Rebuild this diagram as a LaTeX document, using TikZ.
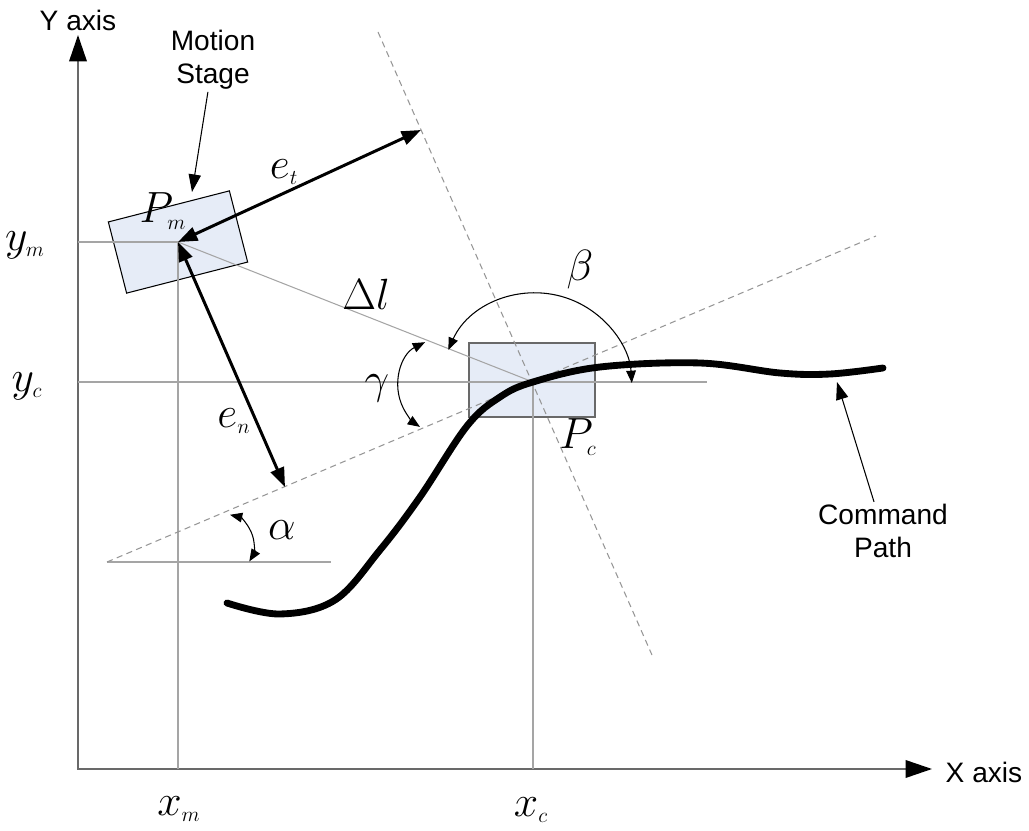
\documentclass[tikz,border=0pt]{standalone}
\usepackage{amsmath,amssymb}
\usepackage{fontspec}
\setmainfont{Liberation Sans}
\usetikzlibrary{arrows.meta}
\definecolor{stagefill}{RGB}{230,236,247}
\definecolor{guidegray}{RGB}{165,165,165}
\definecolor{axisgray}{RGB}{105,105,105}
\definecolor{dashgray}{RGB}{150,150,150}

\begin{document}
\begin{tikzpicture}[x=0.02cm,y=-0.02cm,
    guide/.style={guidegray,line width=0.6pt},
    dashguide/.style={dashgray,line width=0.6pt,dash pattern=on 3.5pt off 2.5pt},
    errarrow/.style={line width=1.7pt,{Triangle[length=11pt,width=8pt]}-{Triangle[length=11pt,width=8pt]}},
    anglearrow/.style={line width=0.6pt,{Triangle[length=7pt,width=5.5pt]}-{Triangle[length=7pt,width=5.5pt]}},
    note/.style={line width=0.6pt,-{Triangle[length=10pt,width=7pt]}},
    lbl/.style={font=\fontsize{24}{28}\selectfont,inner sep=0pt},
    txt/.style={font=\fontsize{16}{19}\selectfont,align=center,inner sep=1pt},
    stagebox/.style={fill=stagefill,minimum width=2.5cm,minimum height=1.47cm,inner sep=0pt,line width=0.6pt}]
  \useasboundingbox (0,0) rectangle (1029,831);
  % reference points
  \coordinate (org) at (78,769);
  \coordinate (ytip) at (78,35);
  \coordinate (xtip) at (932,769);
  \coordinate (pm) at (178,242);
  \coordinate (pc) at (533,382);
  \coordinate (ym) at (78,242);
  \coordinate (xm) at (178,769);
  \coordinate (yc) at (78,382);
  \coordinate (xc) at (533,769);
  \coordinate (hend) at (707,382);
  \coordinate (abase) at (107,562);
  \coordinate (aend) at (331,562);
  \coordinate (tanend) at (876,236);
  \coordinate (nrmtop) at (378,32);
  \coordinate (nrmbot) at (652,655);
  \coordinate (etfoot) at (421,130);
  \coordinate (enfoot) at (285,487);
  \coordinate (mstip) at (192,192);
  \coordinate (cptip) at (837,382);

  % stages
  \node[stagebox,draw=black,rotate=14.4] (stagem) at (pm) {};
  \node[stagebox,draw=axisgray,minimum width=2.52cm,minimum height=1.48cm] (stagec) at (532,380) {};

  % axes
  \draw[axisgray,line width=0.9pt,{Triangle[length=15pt,width=10pt,color=black]}-{Triangle[length=15pt,width=10pt,color=black]}] (ytip) -- (org) -- (xtip);
  \node[txt] (ylab) at (78,20) {Y axis};
  \node[txt] (xlab) at (984,772) {X axis};

  % guides
  \draw[guide] (ym) -- (pm) -- (xm);
  \draw[guide] (yc) -- (hend);
  \draw[guide] (pc) -- (xc);
  \draw[guide] (pm) -- (pc);
  \draw[guide] (abase) -- (aend);
  \draw[dashguide] (abase) -- (tanend);
  \draw[dashguide] (nrmtop) -- (nrmbot);

  % command path
  \draw[line width=3.9pt,line cap=round] plot[smooth,tension=0.6] coordinates {
    (227,603) (280,614) (335,600) (380,550) (420,497) (467,426) (500,397)
    (533,382) (600,367) (700,363) (780,373) (830,374) (883,368)};

  % errors
  \draw[errarrow] (pm) -- (etfoot);
  \draw[errarrow] (pm) -- (enfoot);

  % angles
  \draw[anglearrow] (536,389) ++(-156:96) arc[start angle=-156,end angle=-3.6,radius=96];
  \draw[anglearrow] (447,386) ++(-116.6:49) arc[start angle=-116.6,end angle=-236.6,radius=49];
  \draw[anglearrow] (223,545) ++(-77:31) arc[start angle=-77,end angle=32,radius=31];

  % labels
  \node[lbl] (pmlab) at (163,211) {$P_{\scriptscriptstyle m}$};
  \node[lbl] (pclab) at (578,437) {$P_{\scriptscriptstyle c}$};
  \node[lbl] (etlab) at (284,172) {$e_{\scriptscriptstyle t}$};
  \node[lbl] (enlab) at (234,421) {$e_{\scriptscriptstyle n}$};
  \node[lbl] (dllab) at (366,294) {$\Delta l$};
  \node[lbl] (betalab) at (580,270) {$\beta$};
  \node[lbl] (gammalab) at (377,388) {$\gamma$};
  \node[lbl] (alphalab) at (282,530) {$\alpha$};
  \node[lbl] (ymlab) at (25,245) {$y_{\scriptscriptstyle m}$};
  \node[lbl] (yclab) at (27,386) {$y_{\scriptscriptstyle c}$};
  \node[lbl] (xmlab) at (179,809) {$x_{\scriptscriptstyle m}$};
  \node[lbl] (xclab) at (531,810) {$x_{\scriptscriptstyle c}$};

  % notes
  \node[txt] (mstage) at (213,60) {Motion\\Stage};
  \draw[note] (mstage) -- (mstip);
  \node[txt] (cpath) at (883,531) {Command\\Path};
  \draw[note] (cpath) -- (cptip);
\end{tikzpicture}
\end{document}
